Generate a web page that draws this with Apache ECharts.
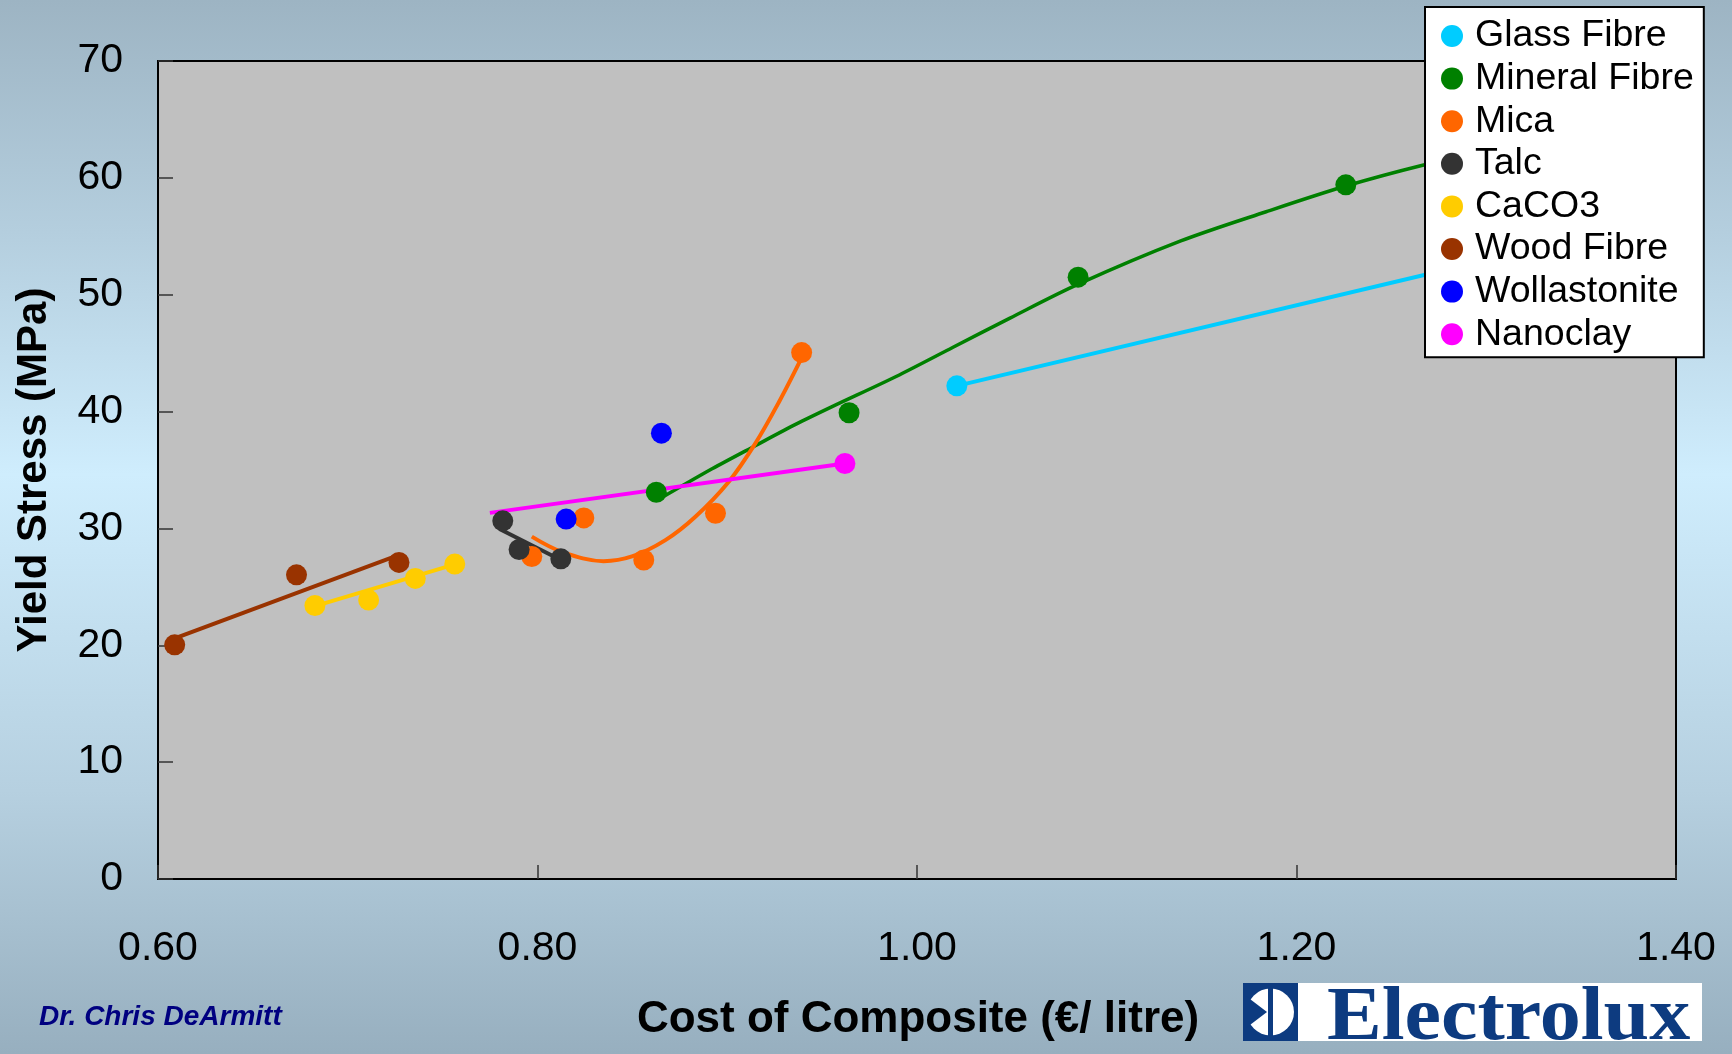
<!DOCTYPE html>
<html>
<head>
<meta charset="utf-8">
<script src="https://cdn.jsdelivr.net/npm/echarts@6/dist/echarts.min.js"></script>
<style>
html,body{margin:0;padding:0;width:1732px;height:1054px;overflow:hidden;}
body{background:linear-gradient(to bottom,#9DB4C3 0%,#B4CEDE 22%,#CFEDFD 45%,#B6D0E0 75%,#97AFBF 100%);}
#chart{width:1732px;height:1054px;}
</style>
</head>
<body>
<div id="chart"></div>
<script>
// ---- data ----
const seriesNames = ['Glass Fibre','Mineral Fibre','Mica','Talc','CaCO3','Wood Fibre','Wollastonite','Nanoclay'];
const seriesColors = ['#00CCFF','#008000','#FF6600','#333333','#FFCC00','#993300','#0000FF','#FF00FF'];

const glassPts = [[1.021,42.2],[1.33,54.1]];
const glassTrend = [[1.021,42.2],[1.33,54.1]];

const mineralPts = [[0.8626,33.1],[0.9642,39.9],[1.0849,51.5],[1.226,59.4],[1.33,63.3]];
const mineralTrend = [[0.863,32.4],[0.892,35.1],[0.915,37.1],[0.936,38.9],[0.955,40.4],[0.989,43.0],[1.019,45.5],[1.049,48.0],[1.085,50.9],[1.139,54.6],[1.184,57.1],[1.226,59.3],[1.267,61.1],[1.33,63.5]];

const micaPts = [[0.797,27.6],[0.8244,30.9],[0.856,27.3],[0.8938,31.3],[0.9392,45.05]];
const micaTrend = [[0.797,29.3],[0.8128,28.0],[0.8348,27.2],[0.8498,27.6],[0.8674,29.0],[0.8832,31.0],[0.9008,34.0],[0.9149,37.3],[0.9272,40.8],[0.9386,44.4]];

const talcPts = [[0.7817,30.65],[0.7903,28.2],[0.8123,27.4]];
const talcTrend = [[0.780,29.95],[0.811,27.4]];

const cacoPts = [[0.6827,23.4],[0.711,23.87],[0.7356,25.72],[0.7564,26.95]];
const cacoTrend = [[0.6827,23.35],[0.7564,26.92]];

const woodPts = [[0.6088,20.04],[0.673,26.03],[0.727,27.09]];
const woodTrend = [[0.6088,20.6],[0.7249,27.6]];

const wollPts = [[0.8653,38.15],[0.8151,30.8]];
const wollTrend = [];

const nanoPts = [[0.962,35.56]];
const nanoTrend = [[0.7749,31.33],[0.962,35.56]];

const xTicks = {min:0.6, max:1.4, interval:0.2};
const yTicks = {min:0, max:70, interval:10};

const xTitle = 'Cost of Composite (€/ litre)';
const yTitle = 'Yield Stress (MPa)';
const author = 'Dr. Chris DeArmitt';
const logoText = 'Electrolux';

// ---- chart ----
const allPts = [glassPts,mineralPts,micaPts,talcPts,cacoPts,woodPts,wollPts,nanoPts];
const allTrends = [glassTrend,mineralTrend,micaTrend,talcTrend,cacoTrend,woodTrend,wollTrend,nanoTrend];
const smoothFlags = [false,0.3,0.35,false,false,false,false,false];

const series = [];
seriesNames.forEach((n,i)=>{
  if (allTrends[i].length) {
    series.push({
      type:'line', name:n, data:allTrends[i], showSymbol:false, smooth:smoothFlags[i],
      lineStyle:{color:seriesColors[i], width: i===1 ? 3.5 : 4}, itemStyle:{color:seriesColors[i]},
      z:2, silent:true, animation:false
    });
  }
});
seriesNames.forEach((n,i)=>{
  series.push({
    type:'scatter', name:n, data:allPts[i], symbol:'circle', symbolSize:21,
    itemStyle:{color:seriesColors[i], opacity:1}, z:3, animation:false
  });
});

const FONT = '"Liberation Sans", Arial, sans-serif';
const chart = echarts.init(document.getElementById('chart'), null, {renderer:'canvas'});
chart.setOption({
  backgroundColor:'transparent',
  animation:false,
  grid:{left:158, top:61, width:1518, height:818, show:true, backgroundColor:'#C0C0C0', borderColor:'#000', borderWidth:2, containLabel:false},
  xAxis:{
    type:'value', min:xTicks.min, max:xTicks.max, interval:xTicks.interval,
    axisLine:{show:true, onZero:false, lineStyle:{color:'#000', width:2}},
    axisTick:{show:true, inside:true, length:14, lineStyle:{color:'#333', width:1.5}},
    splitLine:{show:false},
    axisLabel:{fontSize:41, fontFamily:FONT, color:'#000', margin:70, verticalAlign:'middle', formatter:v=>v.toFixed(2), showMinLabel:true, showMaxLabel:true}
  },
  yAxis:{
    type:'value', min:yTicks.min, max:yTicks.max, interval:yTicks.interval,
    axisLine:{show:true, lineStyle:{color:'#000', width:2}},
    axisTick:{show:true, inside:true, length:15, lineStyle:{color:'#333', width:1.5}},
    splitLine:{show:false},
    axisLabel:{fontSize:41, fontFamily:FONT, color:'#000', margin:35}
  },
  legend:{
    orient:'vertical', left:1425, top:7,
    backgroundColor:'#fff', borderColor:'#000', borderWidth:2,
    padding:[10,10,4,16], itemWidth:22, itemHeight:22, itemGap:4.6,
    icon:'circle',
    data:seriesNames,
    textStyle:{fontSize:37.5, fontFamily:FONT, color:'#000', lineHeight:38, padding:[0,0,0,7]},
    selectedMode:false, z:10
  },
  graphic:[
    {type:'text', x:918, y:1020, style:{text:xTitle, font:'bold 44px '+FONT, fill:'#000', textAlign:'center', textVerticalAlign:'middle'}},
    {type:'text', x:34, y:470, rotation:Math.PI/2, style:{text:yTitle, font:'bold 42px '+FONT, fill:'#000', textAlign:'center', textVerticalAlign:'middle'}},
    {type:'text', x:39, y:1017, style:{text:author, font:'italic bold 28px '+FONT, fill:'#000080', textAlign:'left', textVerticalAlign:'middle'}},
    {type:'rect', shape:{x:1243, y:983, width:459, height:58}, style:{fill:'#fff'}},
    {type:'rect', shape:{x:1243, y:983, width:55, height:58}, style:{fill:'#0D3B80'}},
    {type:'circle', shape:{cx:1270.5, cy:1012, r:23.5}, style:{fill:'#fff'}},
    {type:'polygon', shape:{points:[[1246,996],[1267,1012],[1246,1028]]}, style:{fill:'#0D3B80'}},
    {type:'rect', shape:{x:1268, y:988, width:5, height:48}, style:{fill:'#0D3B80'}},
    {type:'text', x:1327, y:1019, scaleX:1.08, style:{text:logoText, font:'bold 76px "Liberation Serif", "Times New Roman", serif', fill:'#0D3B80', textAlign:'left', textVerticalAlign:'middle'}}
  ],
  series:series
});
</script>
</body>
</html>
